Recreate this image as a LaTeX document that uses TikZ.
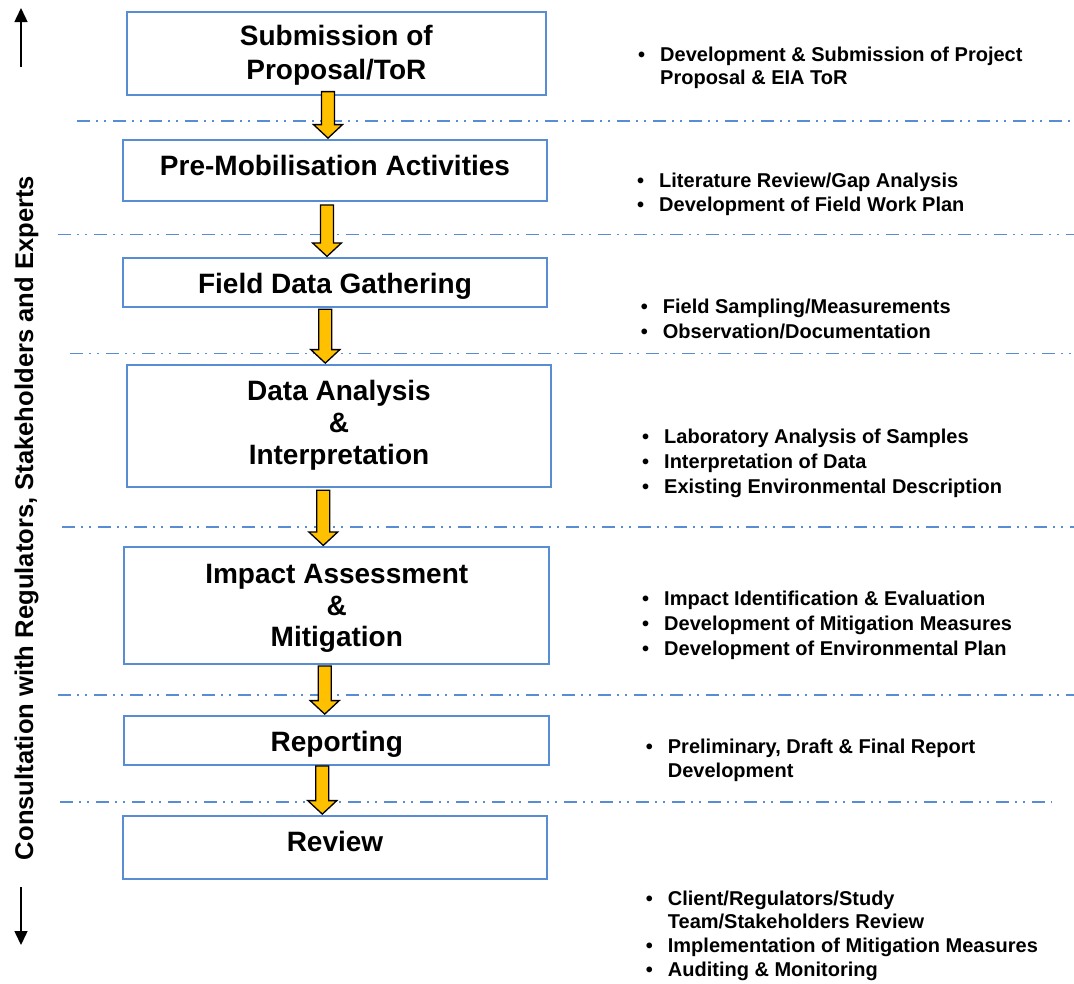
\documentclass[tikz,border=0pt]{standalone}
\usepackage{fontspec}
\setmainfont{Liberation Sans}
\usetikzlibrary{calc,arrows.meta}
\definecolor{boxblue}{RGB}{88,141,212}
\definecolor{arrowyellow}{RGB}{255,192,0}
\newcommand\bl{\leavevmode\llap{\textbullet\hspace{15pt}}}
\newcommand\flowarrow[4]{%
  \draw[flowarrow] let \p1=(#1.south), \p2=(#2.north) in
    ({(#3-6.5)*1pt},{\y1-(#4)*1pt}) -- ({(#3+6.5)*1pt},{\y1-(#4)*1pt})
    -- ({(#3+6.5)*1pt},{\y2+14.5pt}) -- ({(#3+14.5)*1pt},{\y2+14.5pt})
    -- ({(#3)*1pt},{\y2+1pt}) -- ({(#3-14.5)*1pt},{\y2+14.5pt})
    -- ({(#3-6.5)*1pt},{\y2+14.5pt}) -- cycle;}
\tikzset{
  stepbox/.style={draw=boxblue, line width=1.8pt, inner sep=0pt},
  titletext/.style={anchor=base, inner sep=0pt, font=\bfseries\fontsize{28}{32}\selectfont},
  bullettext/.style={anchor=base west, inner sep=0pt, font=\bfseries\fontsize{20}{25}\selectfont},
  sepline/.style={draw=boxblue, line width=1.6pt, dash pattern=on 13pt off 6pt on 2pt off 6pt on 2pt off 7pt},
  flowarrow/.style={fill=arrowyellow, draw=black, line width=1.3pt, line join=miter},
  sidearrow/.style={draw=black, line width=1.5pt, -{Triangle[width=13pt,length=14pt]}},
}
\begin{document}
\begin{tikzpicture}[x=1pt,y=-1pt]
\useasboundingbox (0,0) rectangle (1074,983);

% separator lines
\coordinate (s1a) at (77,120.7);  \coordinate (s1b) at (1074,120.7);
\coordinate (s2a) at (58,234.3);  \coordinate (s2b) at (1074,234.3);
\coordinate (s3a) at (70,353.3);  \coordinate (s3b) at (1074,353.3);
\coordinate (s4a) at (62,526.7);  \coordinate (s4b) at (1074,526.7);
\coordinate (s5a) at (58,695);    \coordinate (s5b) at (1074,695);
\coordinate (s6a) at (60,801.7);  \coordinate (s6b) at (1052,801.7);
\foreach \i in {1,...,6} { \draw[sepline] (s\i a) -- (s\i b); }

% boxes
\node[stepbox, minimum width=419.3pt, minimum height=83.3pt]  (b1) at (336.35,53.35) {};
\node[stepbox, minimum width=424.6pt, minimum height=60.7pt]  (b2) at (335,170.35) {};
\node[stepbox, minimum width=424.6pt, minimum height=48.4pt]  (b3) at (335,282.5) {};
\node[stepbox, minimum width=424.6pt, minimum height=122.3pt] (b4) at (339,426.15) {};
\node[stepbox, minimum width=425pt,   minimum height=116.7pt] (b5) at (336.8,605.65) {};
\node[stepbox, minimum width=425pt,   minimum height=49pt]    (b6) at (336.8,740.5) {};
\node[stepbox, minimum width=424.6pt, minimum height=63.3pt]  (b7) at (335,847.65) {};

% titles
\node[titletext, font=\bfseries\fontsize{28}{34.3}\selectfont] (t1) at (b1.center |- 0,45)
  {\parbox[t]{400pt}{\centering Submission of\\Proposal/ToR}};
\node[titletext] (t2) at (b2.center |- 0,175) {Pre-Mobilisation Activities};
\node[titletext] (t3) at (b3.center |- 0,293.3) {Field Data Gathering};
\node[titletext, font=\bfseries\fontsize{28}{31.8}\selectfont] (t4) at (b4.center |- 0,400.7)
  {\parbox[t]{400pt}{\centering Data Analysis\\\&\\Interpretation}};
\node[titletext, font=\bfseries\fontsize{28}{31.7}\selectfont] (t5) at (b5.center |- 0,583.3)
  {\parbox[t]{400pt}{\centering Impact Assessment\\\&\\Mitigation}};
\node[titletext] (t6) at (b6.center |- 0,751.7) {Reporting};
\node[titletext] (t7) at (b7.center |- 0,851.7) {Review};

% flow arrows
\flowarrow{b1}{b2}{328}{-4.3}
\flowarrow{b2}{b3}{327}{3.3}
\flowarrow{b3}{b4}{325.3}{1.6}
\flowarrow{b4}{b5}{323.3}{2}
\flowarrow{b5}{b6}{324.7}{1}
\flowarrow{b6}{b7}{322.3}{0}

% side label and arrows
\node[rotate=90, anchor=base, inner sep=0pt, font=\bfseries\fontsize{25.6}{30}\selectfont] (side) at (33,518)
  {Consultation with Regulators, Stakeholders and Experts};
\coordinate (up0) at (21,67); \coordinate (up1) at (21,8);
\coordinate (dn0) at (21,887); \coordinate (dn1) at (21,945);
\draw[sidearrow] (up0) -- (up1);
\draw[sidearrow] (dn0) -- (dn1);

% bullet texts
\node[bullettext, font=\bfseries\fontsize{20}{22.3}\selectfont] (r1) at (660,61.7)
  {\parbox[t]{400pt}{\bl Development \& Submission of Project\\Proposal \& EIA ToR}};
\node[bullettext, font=\bfseries\fontsize{20}{24}\selectfont] (r2) at (659,187.7)
  {\parbox[t]{400pt}{\bl Literature Review/Gap Analysis\\\bl Development of Field Work Plan}};
\node[bullettext] (r3) at (662.7,313.3)
  {\parbox[t]{400pt}{\bl Field Sampling/Measurements\\\bl Observation/Documentation}};
\node[bullettext] (r4) at (664,443.3)
  {\parbox[t]{400pt}{\bl Laboratory Analysis of Samples\\\bl Interpretation of Data\\\bl Existing Environmental Description}};
\node[bullettext] (r5) at (664,605)
  {\parbox[t]{400pt}{\bl Impact Identification \& Evaluation\\\bl Development of Mitigation Measures\\\bl Development of Environmental Plan}};
\node[bullettext, font=\bfseries\fontsize{20}{24}\selectfont] (r6) at (667.7,753.3)
  {\parbox[t]{400pt}{\bl Preliminary, Draft \& Final Report\\Development}};
\node[bullettext, font=\bfseries\fontsize{20}{23.9}\selectfont] (r7) at (667.7,905)
  {\parbox[t]{400pt}{\bl Client/Regulators/Study\\Team/Stakeholders Review\\\bl Implementation of Mitigation Measures\\\bl Auditing \& Monitoring}};
\end{tikzpicture}
\end{document}
